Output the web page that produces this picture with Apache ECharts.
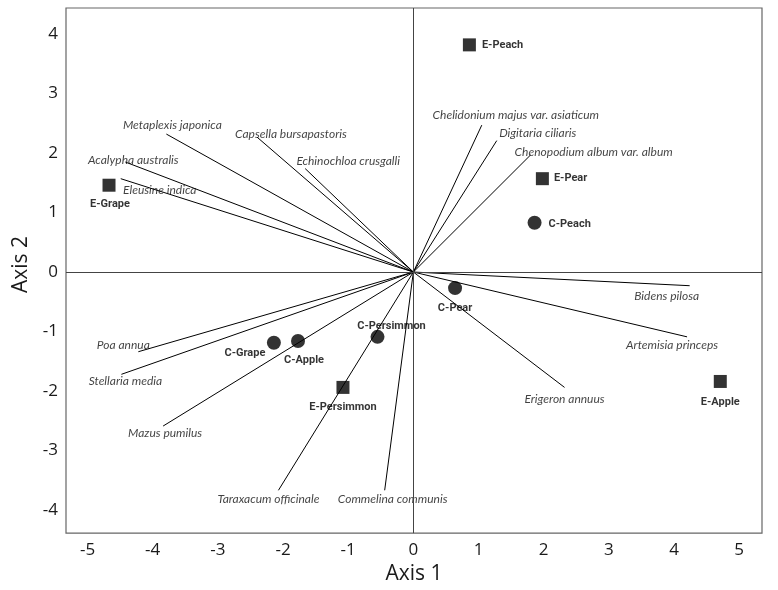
<!DOCTYPE html>
<html>
<head>
<meta charset="utf-8">
<script src="https://cdn.jsdelivr.net/npm/echarts@6/dist/echarts.min.js"></script>
<style>
html,body{margin:0;padding:0;background:#fff;}
#chart{width:778px;height:590px;}
</style>
</head>
<body>
<div id="chart"></div>
<script>
// ---- Data ----
const xTicks = [-5, -4, -3, -2, -1, 0, 1, 2, 3, 4, 5];
const yTicks = [-4, -3, -2, -1, 0, 1, 2, 3, 4];

// Sites, group E (squares)
const eSiteNames = ['E-Peach', 'E-Pear', 'E-Grape', 'E-Apple', 'E-Persimmon'];
const eSiteX = [0.86, 1.98, -4.67, 4.71, -1.08];
const eSiteY = [3.82, 1.57, 1.46, -1.84, -1.94];

// Sites, group C (circles)
const cSiteNames = ['C-Peach', 'C-Pear', 'C-Grape', 'C-Apple', 'C-Persimmon'];
const cSiteX = [1.86, 0.64, -2.14, -1.77, -0.55];
const cSiteY = [0.83, -0.27, -1.19, -1.16, -1.09];

// Species vectors (end points)
const speciesNames = [
  'Metaplexis japonica', 'Capsella bursapastoris', 'Echinochloa crusgalli',
  'Acalypha australis', 'Eleusine indica', 'Chelidonium majus var. asiaticum',
  'Digitaria ciliaris', 'Chenopodium album var. album', 'Bidens pilosa',
  'Artemisia princeps', 'Erigeron annuus', 'Poa annua', 'Stellaria media',
  'Mazus pumilus', 'Taraxacum officinale', 'Commelina communis'
];
const speciesX = [-3.79, -2.40, -1.66, -4.42, -4.49, 1.05, 1.28, 1.80, 4.24, 4.20, 2.32, -4.22, -4.48, -3.84, -2.07, -0.44];
const speciesY = [2.32, 2.27, 1.74, 1.85, 1.57, 2.47, 2.21, 1.97, -0.23, -1.09, -1.94, -1.34, -1.72, -2.59, -3.67, -3.67];

// ---- Label placement (style only) ----
const siteLabelPlacement = {
  'E-Peach': {position: 'right', distance: 6},
  'E-Pear': {position: 'right', distance: 5},
  'E-Grape': {position: 'bottom', distance: 7, offset: [1, 0]},
  'E-Apple': {position: 'bottom', distance: 9},
  'E-Persimmon': {position: 'bottom', distance: 8},
  'C-Peach': {position: 'right', distance: 7, offset: [0, 2]},
  'C-Pear': {position: 'bottom', distance: 8},
  'C-Grape': {position: 'inside', offset: [-29, 10]},
  'C-Apple': {position: 'bottom', distance: 7, offset: [6, 0]},
  'C-Persimmon': {position: 'inside', offset: [14, -11]}
};
const speciesLabelOffset = {
  'Metaplexis japonica': [6, -9],
  'Capsella bursapastoris': [34, -3],
  'Echinochloa crusgalli': [43, -7],
  'Acalypha australis': [8, -2],
  'Eleusine indica': [39, 11],
  'Chelidonium majus var. asiaticum': [34, -10],
  'Digitaria ciliaris': [41, -7],
  'Chenopodium album var. album': [63, -3],
  'Bidens pilosa': [-23, 10],
  'Artemisia princeps': [-15, 8],
  'Erigeron annuus': [0, 12],
  'Poa annua': [-15, -7],
  'Stellaria media': [4, 7],
  'Mazus pumilus': [2, 7],
  'Taraxacum officinale': [-10, 9],
  'Commelina communis': [8, 9]
};

const siteFont = {
  fontFamily: 'Roboto, "Liberation Sans", sans-serif',
  fontWeight: 'bold',
  fontSize: 11,
  color: '#000'
};
const speciesFont = {
  fontFamily: 'Lato, "Open Sans", sans-serif',
  fontStyle: 'italic',
  fontSize: 12,
  color: '#111'
};

function siteData(names, xs, ys) {
  return names.map((n, i) => {
    const p = siteLabelPlacement[n] || {position: 'right'};
    let align = {};
    if (p.position === 'inside') align = {align: 'center', verticalAlign: 'middle'};
    return {
      name: n,
      value: [xs[i], ys[i]],
      label: Object.assign({show: true, formatter: n}, align, p)
    };
  });
}

const speciesPointData = speciesNames.map((n, i) => ({
  name: n,
  value: [speciesX[i], speciesY[i]],
  label: {
    show: true,
    formatter: n,
    position: 'inside',
    align: 'center',
    verticalAlign: 'middle',
    offset: speciesLabelOffset[n]
  }
}));

const vectorData = speciesNames.map((n, i) => ({
  name: n,
  coords: [[0, 0], [speciesX[i], speciesY[i]]]
}));

const chart = echarts.init(document.getElementById('chart'), null, {renderer: 'canvas'});
const tickFont = {fontFamily: '"Open Sans", sans-serif', fontSize: 17, color: '#1a1a1a'};
const nameFont = {fontFamily: '"Open Sans", sans-serif', fontSize: 21, color: '#1a1a1a'};

chart.setOption({
  backgroundColor: '#fff',
  animation: false,
  grid: {left: 66, right: 16, top: 8, bottom: 53, show: true, borderColor: '#666', borderWidth: 1.2, backgroundColor: 'transparent'},
  xAxis: {
    type: 'value',
    min: -5.33, max: 5.35,
    name: 'Axis 1', nameLocation: 'middle', nameGap: 25,
    nameTextStyle: nameFont,
    axisLine: {show: false, onZero: false},
    axisTick: {show: false},
    splitLine: {show: false},
    axisLabel: Object.assign({customValues: xTicks, margin: 9, formatter: v => String(v)}, tickFont)
  },
  yAxis: {
    type: 'value',
    min: -4.39, max: 4.44,
    name: 'Axis 2', nameLocation: 'middle', nameGap: 24, nameRotate: 90,
    nameTextStyle: Object.assign({padding: [0, 0, 0, 12]}, nameFont),
    axisLine: {show: false, onZero: false},
    axisTick: {show: false},
    splitLine: {show: false},
    axisLabel: Object.assign({customValues: yTicks, margin: 8, formatter: v => String(v)}, tickFont)
  },
  series: [
    {
      type: 'lines',
      coordinateSystem: 'cartesian2d',
      polyline: false,
      silent: true,
      z: 2,
      lineStyle: {color: '#000', width: 1, opacity: 1, curveness: 0},
      data: vectorData,
      markLine: {
        silent: true,
        symbol: 'none',
        label: {show: false},
        lineStyle: {color: '#444', width: 1, type: 'solid'},
        data: [{xAxis: 0}, {yAxis: 0}]
      }
    },
    {
      type: 'scatter',
      name: 'species',
      symbolSize: 0,
      z: 3,
      silent: true,
      label: speciesFont,
      data: speciesPointData
    },
    {
      type: 'scatter',
      name: 'E sites',
      symbol: 'rect',
      symbolSize: 13,
      z: 5,
      itemStyle: {color: '#000'},
      label: siteFont,
      data: siteData(eSiteNames, eSiteX, eSiteY)
    },
    {
      type: 'scatter',
      name: 'C sites',
      symbol: 'circle',
      symbolSize: 14,
      z: 5,
      itemStyle: {color: '#000'},
      label: siteFont,
      data: siteData(cSiteNames, cSiteX, cSiteY)
    }
  ]
});
</script>
</body>
</html>
